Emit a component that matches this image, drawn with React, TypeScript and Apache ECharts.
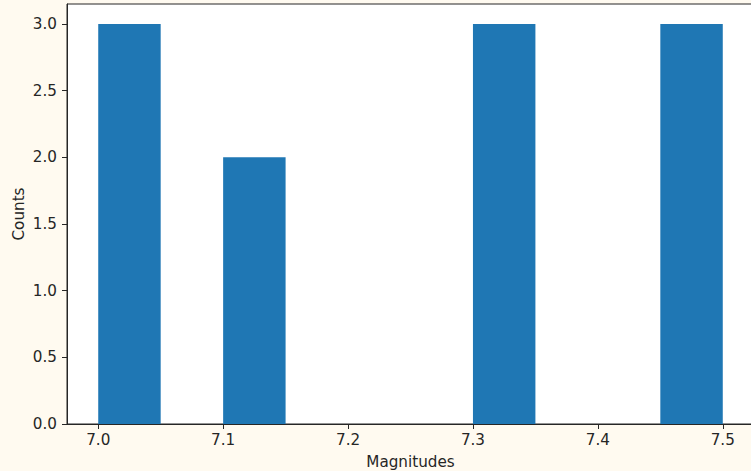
import React, { useEffect, useRef } from "react";
import * as echarts from "echarts";

const binStarts = [7.0, 7.05, 7.1, 7.15, 7.2, 7.25, 7.3, 7.35, 7.4, 7.45];
const binWidth = 0.05;
const counts = [3, 0, 2, 0, 0, 0, 3, 0, 0, 3];
const xTicks = [7.0, 7.1, 7.2, 7.3, 7.4, 7.5];
const yTicks = [0, 0.5, 1.0, 1.5, 2.0, 2.5, 3.0];

export default function App() {
  const ref = useRef<HTMLDivElement>(null);
  useEffect(() => {
    document.body.style.margin = "0";
    const chart = echarts.init(ref.current!, null, { renderer: "svg" });
    const font = "DejaVu Sans";
    const txt = { color: "#262626", fontFamily: font, fontSize: 15.2 };
    chart.setOption({
      animation: false,
      backgroundColor: "#fffaf0",
      grid: {
        left: 67,
        top: 4,
        width: 687,
        height: 420,
        outerBoundsMode: "none",
        containLabel: false,
        show: true,
        backgroundColor: "#ffffff",
        borderColor: "#262626",
        borderWidth: 1,
      },
      xAxis: {
        type: "value",
        min: 6.975,
        max: 7.525,
        name: "Magnitudes",
        nameLocation: "middle",
        nameGap: 30,
        nameMoveOverlap: false,
        nameTextStyle: txt,
        splitLine: { show: false },
        axisLine: { show: true, lineStyle: { color: "#262626", width: 1 } },
        axisTick: { show: true, length: 5, lineStyle: { color: "#262626" }, customValues: xTicks },
        axisLabel: {
          ...txt,
          margin: 8,
          customValues: xTicks,
          formatter: (v: number) => v.toFixed(1),
        },
      },
      yAxis: {
        type: "value",
        min: 0,
        max: 3.15,
        name: "Counts",
        nameLocation: "middle",
        nameGap: 41,
        nameMoveOverlap: false,
        nameTextStyle: txt,
        splitLine: { show: false },
        axisLine: { show: true, lineStyle: { color: "#262626", width: 1 } },
        axisTick: { show: true, length: 5, lineStyle: { color: "#262626" }, customValues: yTicks },
        axisLabel: {
          ...txt,
          margin: 10,
          customValues: yTicks,
          formatter: (v: number) => v.toFixed(1),
        },
      },
      series: [
        {
          type: "custom",
          data: binStarts.map((s, i) => [s, s + binWidth, counts[i]]),
          renderItem: (params: any, api: any) => {
            const x0 = api.value(0);
            const x1 = api.value(1);
            const y = api.value(2);
            if (!y) return null;
            const p0 = api.coord([x0, 0]);
            const p1 = api.coord([x1, y]);
            return {
              type: "rect",
              shape: { x: p0[0], y: p1[1], width: p1[0] - p0[0], height: p0[1] - p1[1] },
              style: { fill: "#1f77b4" },
            };
          },
        },
      ],
    });
    return () => chart.dispose();
  }, []);
  return <div ref={ref} style={{ width: 751, height: 471 }} />;
}
